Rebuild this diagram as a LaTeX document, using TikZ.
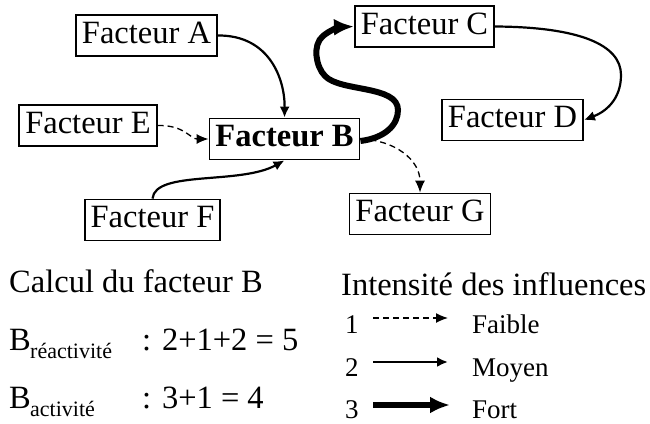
\documentclass[tikz,border=0pt]{standalone}
\usepackage{fontspec}
\setmainfont{Liberation Serif}
\usetikzlibrary{arrows.meta}
\begin{document}
\begin{tikzpicture}[x=1pt,y=-1pt,
  box/.style={draw,line width=1.8pt,inner xsep=6pt,inner ysep=5pt,text height=23pt,text depth=8pt,font=\fontsize{32.5}{38}\selectfont},
  big/.style={font=\fontsize{32.5}{38}\selectfont,inner sep=0pt,anchor=base west},
  small/.style={font=\fontsize{27}{32}\selectfont,inner sep=0pt,anchor=base west},
  sub/.style={font=\fontsize{22}{26}\selectfont,inner sep=0pt,anchor=base west},
  weak/.style={line width=1.3pt,dash pattern=on 6pt off 4pt,-{Latex[length=12pt,width=10pt]}},
  medium/.style={line width=2.2pt,-{Latex[length=11pt,width=10pt]}},
  strong/.style={line width=6pt,-{Latex[length=20pt,width=17pt]}}]
\useasboundingbox (0,0) rectangle (650,423);
\node[box] (A) at (146.5,35.5) {Facteur A};
\node[box] (C) at (424.5,26.5) {Facteur C};
\node[box] (D) at (512.5,120) {Facteur D};
\node[box] (G) at (420,214) {Facteur G};
\node[box] (E) at (88,125.5) {Facteur E};
\node[box,font=\fontsize{32.5}{38}\selectfont\bfseries] (B) at (284.5,139) {Facteur B};
\node[box] (F) at (152.5,220) {Facteur F};
\coordinate (s1) at (398,110);
\coordinate (s2) at (316,55);
% connectors
\draw[medium] (A.east) .. controls (270,35) and (285,80) .. (B.north);
\draw[weak] (E.east) .. controls (185,125) and (190,139) .. (B.west);
\draw[medium] (F.north) .. controls (155,170) and (240,185) .. (B.south);
\draw[strong] ([yshift=-2pt]B.east) .. controls (385,138) and (398,125) .. (s1)
   .. controls (398,85) and (340,92) .. (325,76)
   .. controls (316,67) and (312,45) .. (323,36)
   .. controls (330,30) and (340,27) .. (C.west);
\draw[medium] (C.east) .. controls (580,27) and (621,45) .. (621,75)
   .. controls (621,100) and (605,112) .. (D.east);
\draw[weak] (B.east) .. controls (395,140) and (420,160) .. (G.north);
% calculation
\node[big] (calc) at (9,292) {Calcul du facteur B};
\node[big] (b1) at (9,350) {B};
\node[sub] (b1s) at (30,358) {réactivité};
\node[big] (v1) at (142,350) {: 2+1+2 = 5};
\node[big] (b2) at (9,408) {B};
\node[sub] (b2s) at (30,416) {activité};
\node[big] (v2) at (142,408) {: 3+1 = 4};
% legend
\node[big] (leg) at (341,295) {Intensité des influences};
\node[small] (n1) at (345,333) {1};
\node[small] (n2) at (345,376) {2};
\node[small] (n3) at (345,418) {3};
\node[small] (l1) at (472,333) {Faible};
\node[small] (l2) at (472,376) {Moyen};
\node[small] (l3) at (472,418) {Fort};
\coordinate (a1) at (373,318); \coordinate (e1) at (448,318);
\coordinate (a2) at (373,362); \coordinate (e2) at (448,362);
\coordinate (a3) at (373,405); \coordinate (e3) at (450,405);
\draw[weak] (a1) -- (e1);
\draw[medium] (a2) -- (e2);
\draw[strong] (a3) -- (e3);
\end{tikzpicture}
\end{document}
